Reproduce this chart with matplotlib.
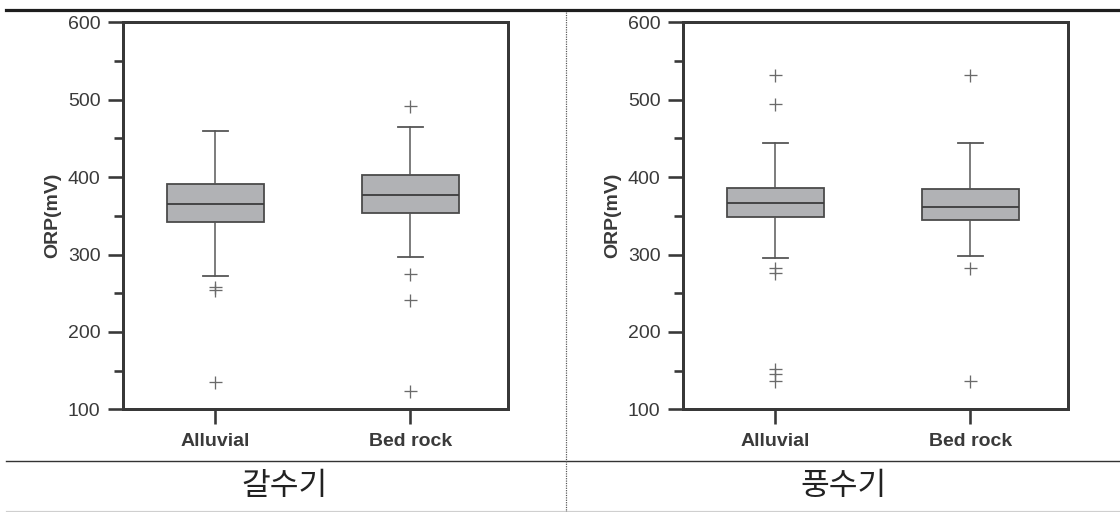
import matplotlib
matplotlib.use("Agg")
import matplotlib.pyplot as plt
from matplotlib.lines import Line2D
from matplotlib.ticker import MultipleLocator

# ORP (mV) box-plot summaries by aquifer type, dry season vs wet season
categories = ["Alluvial", "Bed rock"]
season_titles = ["갈수기", "풍수기"]

dry_whislo = [272, 297]
dry_q1 = [342, 354]
dry_med = [365, 377]
dry_q3 = [391, 403]
dry_whishi = [460, 465]
dry_fliers = [[258, 254, 135], [492, 275, 241, 124]]

wet_whislo = [296, 298]
wet_q1 = [348, 344]
wet_med = [366, 361]
wet_q3 = [386, 385]
wet_whishi = [444, 444]
wet_fliers = [[532, 494, 282, 276, 152, 146, 137], [532, 282, 137]]

y_ticks = [100, 200, 300, 400, 500, 600]

W, H = 1120, 512
DPI = 100
PX = 72.0 / DPI  # points per pixel

plt.rcParams["font.family"] = ["Liberation Sans", "DejaVu Sans"]

fig = plt.figure(figsize=(W / DPI, H / DPI), dpi=DPI)
fig.patch.set_facecolor("white")


def build_stats(lo, q1, med, q3, hi, fl):
    return [
        dict(label=c, whislo=lo[i], q1=q1[i], med=med[i], q3=q3[i],
             whishi=hi[i], fliers=fl[i])
        for i, c in enumerate(categories)
    ]


panels = [
    build_stats(dry_whislo, dry_q1, dry_med, dry_q3, dry_whishi, dry_fliers),
    build_stats(wet_whislo, wet_q1, wet_med, wet_q3, wet_whishi, wet_fliers),
]

ax_bottom = (H - 409.3) / H
ax_height = (409.3 - 22.3) / H
ax_width = (507.9 - 122.5) / W
lefts = [122.5 / W, 682.5 / W]

spine_col = "#383838"
text_col = "#3a3a3a"

for left, stats in zip(lefts, panels):
    ax = fig.add_axes([left, ax_bottom, ax_width, ax_height])
    ax.bxp(
        stats,
        positions=[0, 1],
        widths=0.5,
        patch_artist=True,
        showfliers=True,
        boxprops=dict(facecolor="#b1b2b5", edgecolor="#4a4a4a", linewidth=1.8 * PX),
        medianprops=dict(color="#3c3c3c", linewidth=1.8 * PX),
        whiskerprops=dict(color="#555555", linewidth=1.5 * PX),
        capprops=dict(color="#555555", linewidth=1.8 * PX),
        capwidths=0.13,
        flierprops=dict(marker="+", markersize=13 * PX, markeredgecolor="#6a6a6a",
                        markeredgewidth=1.3 * PX, linestyle="none"),
    )
    ax.set_xlim(-0.476, 1.5)
    ax.set_ylim(100, 600)
    ax.set_yticks(y_ticks)
    ax.yaxis.set_minor_locator(MultipleLocator(50))
    ax.set_xticks([0, 1])
    ax.set_xticklabels(categories, fontsize=14, fontweight="bold", color=text_col)
    ax.tick_params(axis="y", which="major", direction="out", length=15 * PX,
                   width=2.6 * PX, color=spine_col, labelsize=14,
                   labelcolor=text_col, pad=5)
    ax.tick_params(axis="y", which="minor", direction="out", length=9 * PX,
                   width=2.6 * PX, color=spine_col)
    ax.tick_params(axis="x", which="major", direction="out", length=15 * PX,
                   width=2.6 * PX, color=spine_col, pad=6)
    for side in ["left", "bottom", "top", "right"]:
        ax.spines[side].set_linewidth(3 * PX)
        ax.spines[side].set_color(spine_col)
    ax.set_ylabel("ORP(mV)", fontsize=14, fontweight="bold", color=text_col)
    ax.yaxis.set_label_coords(-0.158, 0.5)

# table rules and cell divider
def hline(y, x0, x1, lw, color, ls="-"):
    fig.add_artist(Line2D([x0 / W, x1 / W], [1 - y / H, 1 - y / H],
                          transform=fig.transFigure, lw=lw * PX, color=color,
                          linestyle=ls))

hline(10, 6, W, 3.2, "#1e1e1e")
hline(460.7, 6, W, 1.4, "#333333")
hline(511, 6, W, 1.2, "#cfcfcf")
fig.add_artist(Line2D([565.7 / W, 565.7 / W], [1 - 12 / H, 0],
                      transform=fig.transFigure, lw=1.2 * PX, color="#555555",
                      linestyle=(0, (1, 1))))

for cx, title in zip([285.0, 844.0], season_titles):
    fig.text(cx / W, 1 - 486 / H, title, ha="center", va="center",
             fontsize=22.5, color="#222222",
             family=["Noto Sans CJK KR", "DejaVu Sans"], fontweight="light")

fig.savefig("out.png", dpi=DPI, facecolor="white")
